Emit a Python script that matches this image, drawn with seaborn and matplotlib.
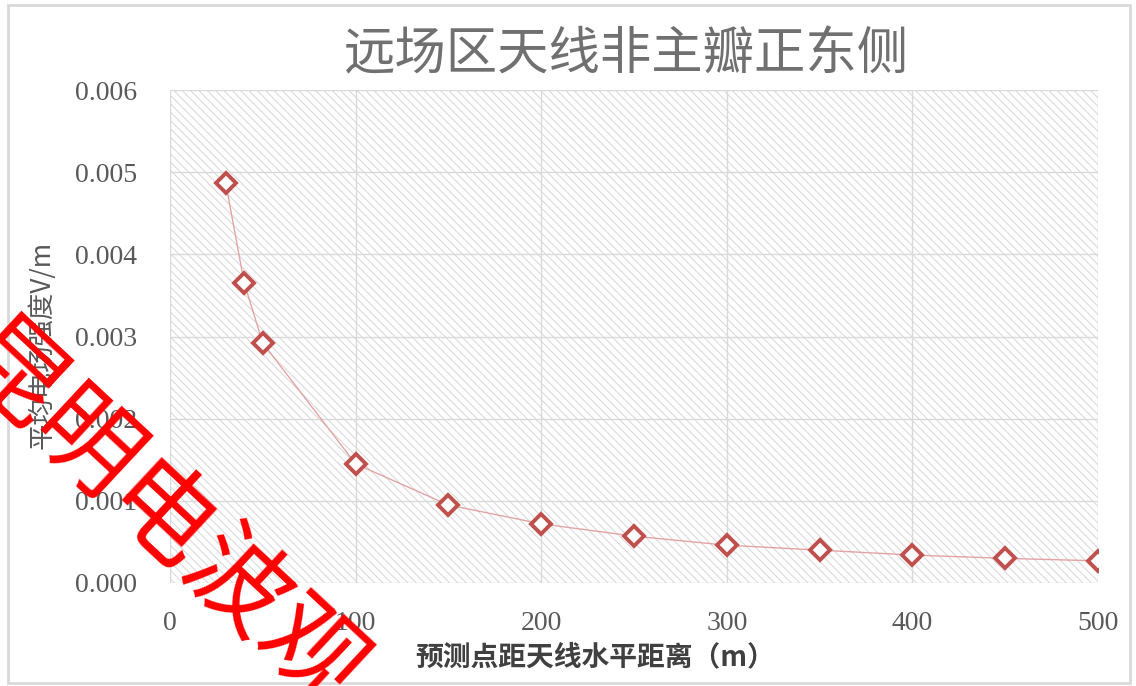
import matplotlib
matplotlib.use("Agg")
import matplotlib.pyplot as plt
import matplotlib.patches as mpatches
import seaborn as sns
import pandas as pd

# ---- data ----
distance_m = [30, 40, 50, 100, 150, 200, 250, 300, 350, 400, 450, 500]
field_strength = [0.00487, 0.00365, 0.00292, 0.00145, 0.00095, 0.00072,
                  0.00057, 0.00046, 0.00040, 0.00034, 0.00030, 0.00027]
x_ticks = [0, 100, 200, 300, 400, 500]
y_ticks = [0.000, 0.001, 0.002, 0.003, 0.004, 0.005, 0.006]
title_text = "远场区天线非主瓣正东侧"
xlabel_text = "预测点距天线水平距离（m）"
ylabel_text = "平均电场强度V/m"
watermark_text = "昆明电波观"

sns.set_theme(style="white")
plt.rcParams['font.family'] = ['Noto Sans CJK SC', 'DejaVu Sans']
plt.rcParams['hatch.linewidth'] = 0.7

W, H = 1136, 686
fig = plt.figure(figsize=(W / 100, H / 100), dpi=100)
ax = fig.add_axes([170 / W, 1 - 583 / H, (1098 - 170) / W, (583 - 90) / H])

# hatched plot area
hatch = mpatches.Rectangle((0, 0), 1, 1, transform=ax.transAxes, facecolor='white',
                           edgecolor='#d6d6d6', linewidth=0, hatch='\\' * 4, zorder=0)
ax.add_patch(hatch)

df = pd.DataFrame({"distance": distance_m, "field": field_strength})
sns.lineplot(data=df, x="distance", y="field", ax=ax, color='#E3A3A3', linewidth=1.0,
             marker='D', markersize=10, markerfacecolor='white',
             markeredgecolor='#C0504D', markeredgewidth=2.8, zorder=5)

ax.set_xlim(0, 500)
ax.set_ylim(0, 0.006)
ax.set_xticks(x_ticks)
ax.set_yticks(y_ticks)
ax.set_yticklabels([f"{v:.3f}" for v in y_ticks])
ax.set_xticklabels([str(v) for v in x_ticks])
ax.grid(True, color='#d9d9d9', linewidth=1.0, zorder=1)
ax.set_axisbelow(True)
for s in ax.spines.values():
    s.set_visible(False)
ax.tick_params(axis='both', length=0, labelsize=20, labelcolor='#595959')
ax.tick_params(axis='y', pad=24)
ax.tick_params(axis='x', pad=20)
for lab in ax.get_xticklabels() + ax.get_yticklabels():
    lab.set_fontfamily('Liberation Serif')
ax.set_xlabel("")
ax.set_ylabel("")

fig.text(627 / W, 1 - 55 / H, title_text, ha='center', va='center',
         fontsize=37, color='#707070')
fig.text(595 / W, 1 - 657 / H, xlabel_text, ha='center', va='center',
         fontsize=20, color='#404040', fontweight='bold')
fig.text(42 / W, 1 - 345 / H, ylabel_text, ha='center', va='center',
         fontsize=19, color='#595959', rotation=90)

# figure border
fig.patches.append(mpatches.Rectangle((8 / W, 3 / H), 1122 / W, 678 / H,
                                      transform=fig.transFigure, fill=False,
                                      edgecolor='#d9d9d9', linewidth=2))

# watermark
fig.text(158 / W, 1 - 522 / H, watermark_text, ha='center', va='center',
         fontsize=74, color='#ff0000', rotation=-43, zorder=20)

fig.savefig("out.png", dpi=100)
